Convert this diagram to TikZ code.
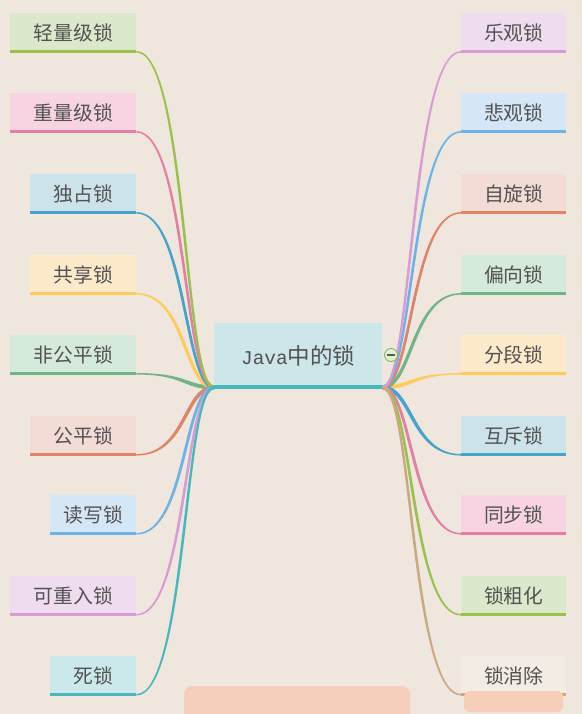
\documentclass[tikz,border=0pt]{standalone}
\usepackage{fontspec}
\setmainfont{Liberation Serif}
\newfontfamily\cjk{Noto Sans CJK SC}
\newfontfamily\javamono{Liberation Mono}
\usetikzlibrary{calc}
\definecolor{bg}{HTML}{EFE7DE}
\definecolor{txt}{HTML}{525252}
\definecolor{fGreen}{HTML}{DCE8CC}\definecolor{cGreen}{HTML}{99C24D}
\definecolor{fPink}{HTML}{F8D3E1}\definecolor{cPink}{HTML}{E47FA4}
\definecolor{fBlue}{HTML}{CDE3EB}\definecolor{cBlue}{HTML}{46A3C9}
\definecolor{fYellow}{HTML}{FDEACB}\definecolor{cYellow}{HTML}{FFCB5C}
\definecolor{fGreenB}{HTML}{D5EADB}\definecolor{cGreenB}{HTML}{73B389}
\definecolor{fSalmon}{HTML}{F4DCD6}\definecolor{cSalmon}{HTML}{DF8469}
\definecolor{fLblue}{HTML}{D5E7F7}\definecolor{cLblue}{HTML}{6DB3E8}
\definecolor{fViolet}{HTML}{F0DCEF}\definecolor{cViolet}{HTML}{D99BD3}
\definecolor{fTeal}{HTML}{CBE8EA}\definecolor{cTeal}{HTML}{48B7BE}
\definecolor{fTan}{HTML}{F3ECE4}\definecolor{cTan}{HTML}{C9A982}
\definecolor{fCenter}{HTML}{CDE6EA}
\definecolor{blob}{HTML}{F5CFBA}
\definecolor{fMinus}{HTML}{E2F1CF}\definecolor{cMinus}{HTML}{7DB05A}
\newcommand\branch[6]{%
  \fill[#3] ([yshift=0.75pt]#1) .. controls +({#4+(#6)},0) and +({#5+(#6)},0) .. ([yshift=2pt]#2)
    -- ([yshift=-2pt]#2) .. controls +({#5-(#6)},0) and +({#4-(#6)},0) .. ([yshift=-0.75pt]#1) -- cycle;}
\begin{document}
\begin{tikzpicture}[x=1pt,y=-1pt,
  leaf/.style={inner sep=0pt, minimum height=40pt, text=txt,
    font=\cjk\fontsize{19.8}{22}\selectfont},
  underline/.style={line width=3.2pt}]
\useasboundingbox (0,0) rectangle (582,714);
\fill[bg] (0,0) rectangle (582,714);

% left leaves
\foreach \n/\xl/\tp/\fc/\lc/\t in {
  L1/10/13/fGreen/cGreen/轻量级锁,
  L2/10/93/fPink/cPink/重量级锁,
  L3/30/174/fBlue/cBlue/独占锁,
  L4/30/255/fYellow/cYellow/共享锁,
  L5/10/335/fGreenB/cGreenB/非公平锁,
  L6/30/416/fSalmon/cSalmon/公平锁,
  L7/50/495/fLblue/cLblue/读写锁,
  L8/10/576/fViolet/cViolet/可重入锁,
  L9/50/656/fTeal/cTeal/死锁}{
  \node[leaf, fill=\fc, anchor=north west, minimum width={136pt-\xl pt}] (\n) at (\xl,\tp) {\t};
  \draw[underline, \lc] ([yshift=1.6pt]\n.south west) -- ([yshift=1.6pt]\n.south east);
  \coordinate (\n e) at ([yshift=1.6pt]\n.south east);
}
% right leaves
\foreach \n/\tp/\fc/\lc/\t in {
  R1/13/fViolet/cViolet/乐观锁,
  R2/93/fLblue/cLblue/悲观锁,
  R3/174/fSalmon/cSalmon/自旋锁,
  R4/255/fGreenB/cGreenB/偏向锁,
  R5/335/fYellow/cYellow/分段锁,
  R6/416/fBlue/cBlue/互斥锁,
  R7/495/fPink/cPink/同步锁,
  R8/576/fGreen/cGreen/锁粗化,
  R9/656/fTan/cTan/锁消除}{
  \node[leaf, fill=\fc, anchor=north west, minimum width=105pt] (\n) at (461,\tp) {\t};
  \draw[underline, \lc] ([yshift=1.6pt]\n.south west) -- ([yshift=1.6pt]\n.south east);
  \coordinate (\n e) at ([yshift=1.6pt]\n.south west);
}

% center
\node[inner sep=0pt, fill=fCenter, anchor=north west, minimum width=168pt, minimum height=66pt, text=txt] (C) at (214,323)
  {{\javamono\fontsize{19.5}{22}\selectfont Java}{\cjk\fontsize{22.5}{24}\selectfont 中的锁}};
\coordinate (Cl) at ([yshift=2pt]C.south west);
\coordinate (Cr) at ([yshift=2pt]C.south east);

% connectors left
\branch{L5e}{Cl}{cGreenB}{50}{-30}{1.5}
\branch{L4e}{Cl}{cYellow}{50}{-30}{1.5}
\branch{L6e}{Cl}{cSalmon}{50}{-30}{-1.5}
\branch{L3e}{Cl}{cBlue}{50}{-30}{1.5}
\branch{L7e}{Cl}{cLblue}{50}{-30}{-1.5}
\branch{L2e}{Cl}{cPink}{50}{-30}{1.5}
\branch{L8e}{Cl}{cViolet}{50}{-30}{-1.5}
\branch{L1e}{Cl}{cGreen}{50}{-30}{1.5}
\branch{L9e}{Cl}{cTeal}{50}{-30}{-1.5}
% connectors right
\branch{R5e}{Cr}{cYellow}{-50}{30}{-1.5}
\branch{R4e}{Cr}{cGreenB}{-50}{30}{-1.5}
\branch{R6e}{Cr}{cBlue}{-50}{30}{1.5}
\branch{R3e}{Cr}{cSalmon}{-50}{30}{-1.5}
\branch{R7e}{Cr}{cPink}{-50}{30}{1.5}
\branch{R2e}{Cr}{cLblue}{-50}{30}{-1.5}
\branch{R8e}{Cr}{cGreen}{-50}{30}{1.5}
\branch{R1e}{Cr}{cViolet}{-50}{30}{-1.5}
\branch{R9e}{Cr}{cTan}{-50}{30}{1.5}

\draw[line width=4pt, cTeal] (Cl) -- (Cr);

% collapse toggle
\node[circle, draw=cMinus, fill=fMinus, line width=0.8pt, minimum size=13pt, inner sep=0pt] (tog) at (391,355) {};
\draw[line width=1.1pt, black!65] ([xshift=-3.8pt]tog.center) -- ([xshift=3.8pt]tog.center);

% cover blobs
\fill[blob, rounded corners=8pt] (184,686) rectangle (410,722);
\fill[blob, rounded corners=5pt] (464,691) rectangle (563,712);
\end{tikzpicture}
\end{document}
